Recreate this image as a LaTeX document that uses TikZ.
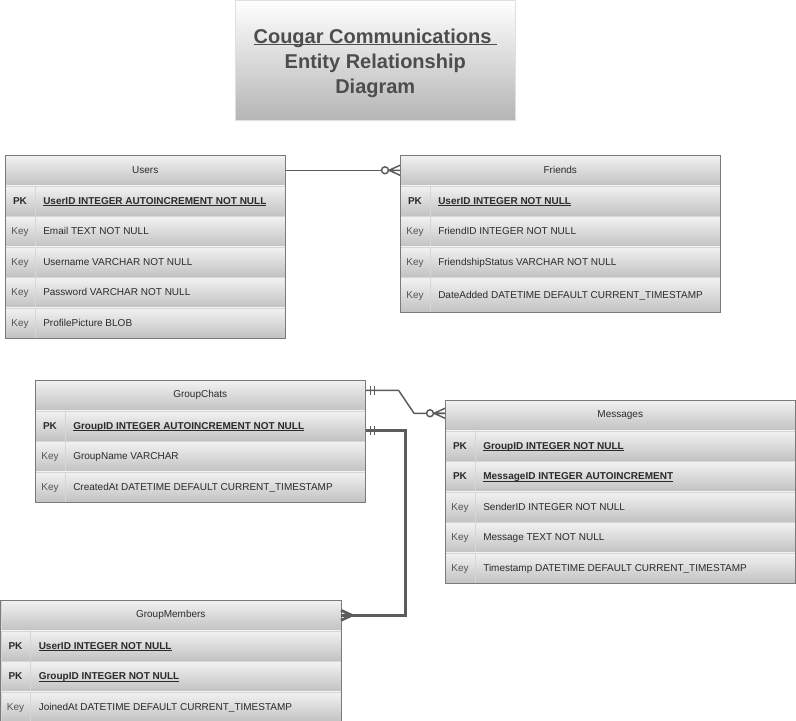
\documentclass[tikz,border=0pt]{standalone}
\usepackage{fontspec}
\setmainfont{Liberation Sans}
\usepackage{xcolor}
\usepackage{tikz}
\usetikzlibrary{positioning,calc}
\definecolor{ERBorder}{HTML}{7A7A7A}
\definecolor{ERTop}{HTML}{F2F2F2}
\definecolor{ERBottom}{HTML}{C2C2C2}
\definecolor{ERSep}{HTML}{D6D6D6}
\definecolor{ERText}{HTML}{2B2B2B}
\definecolor{ERKey}{HTML}{555555}
\definecolor{ERLine}{HTML}{5C5C5C}
\definecolor{TBottom}{HTML}{B5B5B5}
\definecolor{TText}{HTML}{4D4D4D}
\newsavebox{\ulbox}
\newcommand{\ulined}[2][0.55pt]{\sbox{\ulbox}{#2}%
  \makebox[0pt][l]{\rule[-1.3pt]{\wd\ulbox}{#1}}\usebox{\ulbox}}
\newcommand{\pkfield}[1]{\ulined{\textbf{#1}}}
\newcommand{\pkkey}{\textcolor{ERText}{\textbf{PK}}}

\begin{document}
\begin{tikzpicture}[x=0.75pt, y=-0.75pt,
  every node/.style={font=\fontsize{7.5}{9}\selectfont, text=ERText, inner sep=0pt},
  titlebox/.style={anchor=north west, minimum width=210pt, minimum height=90pt,
    top color=white, bottom color=TBottom, draw=white!88!black},
  titletxt/.style={align=center, font=\fontsize{15}{18.75}\selectfont\bfseries, text=TText},
  hdr/.style={draw=ERSep, top color=ERTop, bottom color=ERBottom,
    minimum height=22.5pt, anchor=north west},
  cell/.style={draw=ERSep, top color=ERTop, bottom color=ERBottom, anchor=north west},
  keysep/.style={draw=ERSep, line width=0.4pt},
  keytxt/.style={text=ERKey, anchor=base},
  fldtxt/.style={anchor=base west},
  frame/.style={draw=ERBorder, line width=0.6pt},
  conn/.style={color=ERLine, line width=1.1pt},
  conn3/.style={color=ERLine, line width=2pt},
  one/.pic={\draw (5,-4.5) -- (5,4.5) (9,-4.5) -- (9,4.5);},
  many/.pic={\draw (-11,0) -- (0,-5) (-11,0) -- (0,0) (-11,0) -- (0,5);},
  zeromany/.pic={\draw (-11,0) -- (0,-5) (-11,0) -- (0,0) (-11,0) -- (0,5);
    \draw[fill=white] (-15,0) circle[radius=2.6pt];}]
\useasboundingbox (0,0) rectangle (796,721);

% title
\node[titlebox] (title) at (235,0) {};
\node[titletxt] (title-txt) at ($(title.center)+(0,3)$)
  {\ulined[1pt]{Cougar Communications\ }\\Entity Relationship\\Diagram};

% Users
\def\tw{280}
\node[hdr, minimum width=\tw*0.75pt, alias=users-0] (users) at (5,155) {Users};
\foreach \i/\h/\k/\f in {%
  1/30/{\pkkey}/{\pkfield{UserID INTEGER AUTOINCREMENT NOT NULL}},
  2/30/Key/{Email TEXT NOT NULL},
  3/30/Key/{Username VARCHAR NOT NULL},
  4/30/Key/{Password VARCHAR NOT NULL},
  5/30/Key/{ProfilePicture BLOB}}{
  \pgfmathtruncatemacro{\j}{\i-1}
  \node[cell, minimum width=\tw*0.75pt, minimum height=\h*0.75pt] (users-\i) at (users-\j.south west) {};
  \draw[keysep] ($(users-\i.north west)+(30,0)$) -- ($(users-\i.south west)+(30,0)$);
  \node[keytxt] (users-k\i) at ($(users-\i.west)+(15,3.3)$) {\k};
  \node[fldtxt] (users-f\i) at ($(users-\i.west)+(38,3.3)$) {\f};
}
\draw[frame] (users.north west) rectangle (users-5.south east);

% Friends
\def\tw{320}
\node[hdr, minimum width=\tw*0.75pt, alias=friends-0] (friends) at (400,155) {Friends};
\foreach \i/\h/\k/\f in {%
  1/30/{\pkkey}/{\pkfield{UserID INTEGER NOT NULL}},
  2/30/Key/{FriendID INTEGER NOT NULL},
  3/30/Key/{FriendshipStatus VARCHAR NOT NULL},
  4/35/Key/{DateAdded DATETIME DEFAULT CURRENT\_TIMESTAMP}}{
  \pgfmathtruncatemacro{\j}{\i-1}
  \node[cell, minimum width=\tw*0.75pt, minimum height=\h*0.75pt] (friends-\i) at (friends-\j.south west) {};
  \draw[keysep] ($(friends-\i.north west)+(30,0)$) -- ($(friends-\i.south west)+(30,0)$);
  \node[keytxt] (friends-k\i) at ($(friends-\i.west)+(15,3.3)$) {\k};
  \node[fldtxt] (friends-f\i) at ($(friends-\i.west)+(38,3.3)$) {\f};
}
\draw[frame] (friends.north west) rectangle (friends-4.south east);

% GroupChats
\def\tw{330}
\node[hdr, minimum width=\tw*0.75pt, alias=groupchats-0] (groupchats) at (35,380) {GroupChats};
\foreach \i/\h/\k/\f in {%
  1/30/{\pkkey}/{\pkfield{GroupID INTEGER AUTOINCREMENT NOT NULL}},
  2/30/Key/{GroupName VARCHAR},
  3/30/Key/{CreatedAt DATETIME DEFAULT CURRENT\_TIMESTAMP}}{
  \pgfmathtruncatemacro{\j}{\i-1}
  \node[cell, minimum width=\tw*0.75pt, minimum height=\h*0.75pt] (groupchats-\i) at (groupchats-\j.south west) {};
  \draw[keysep] ($(groupchats-\i.north west)+(30,0)$) -- ($(groupchats-\i.south west)+(30,0)$);
  \node[keytxt] (groupchats-k\i) at ($(groupchats-\i.west)+(15,3.3)$) {\k};
  \node[fldtxt] (groupchats-f\i) at ($(groupchats-\i.west)+(38,3.3)$) {\f};
}
\draw[frame] (groupchats.north west) rectangle (groupchats-3.south east);

% Messages
\def\tw{350}
\node[hdr, minimum width=\tw*0.75pt, alias=messages-0] (messages) at (445,400) {Messages};
\foreach \i/\h/\k/\f in {%
  1/30/{\pkkey}/{\pkfield{GroupID INTEGER NOT NULL}},
  2/30/{\pkkey}/{\pkfield{MessageID INTEGER AUTOINCREMENT}},
  3/30/Key/{SenderID INTEGER NOT NULL},
  4/30/Key/{Message TEXT NOT NULL},
  5/30/Key/{Timestamp DATETIME DEFAULT CURRENT\_TIMESTAMP}}{
  \pgfmathtruncatemacro{\j}{\i-1}
  \node[cell, minimum width=\tw*0.75pt, minimum height=\h*0.75pt] (messages-\i) at (messages-\j.south west) {};
  \draw[keysep] ($(messages-\i.north west)+(30,0)$) -- ($(messages-\i.south west)+(30,0)$);
  \node[keytxt] (messages-k\i) at ($(messages-\i.west)+(15,3.3)$) {\k};
  \node[fldtxt] (messages-f\i) at ($(messages-\i.west)+(38,3.3)$) {\f};
}
\draw[frame] (messages.north west) rectangle (messages-5.south east);

% GroupMembers
\def\tw{340}
\node[hdr, minimum width=\tw*0.75pt, alias=groupmembers-0] (groupmembers) at (0.5,600) {GroupMembers};
\foreach \i/\h/\k/\f in {%
  1/30/{\pkkey}/{\pkfield{UserID INTEGER NOT NULL}},
  2/30/{\pkkey}/{\pkfield{GroupID INTEGER NOT NULL}},
  3/30/Key/{JoinedAt DATETIME DEFAULT CURRENT\_TIMESTAMP}}{
  \pgfmathtruncatemacro{\j}{\i-1}
  \node[cell, minimum width=\tw*0.75pt, minimum height=\h*0.75pt] (groupmembers-\i) at (groupmembers-\j.south west) {};
  \draw[keysep] ($(groupmembers-\i.north west)+(30,0)$) -- ($(groupmembers-\i.south west)+(30,0)$);
  \node[keytxt] (groupmembers-k\i) at ($(groupmembers-\i.west)+(15,3.3)$) {\k};
  \node[fldtxt] (groupmembers-f\i) at ($(groupmembers-\i.west)+(38,3.3)$) {\f};
}
\draw[frame] (groupmembers.north west) rectangle (groupmembers-3.south east);

% relations
\draw[conn] (users.east) -- (friends.west);
\pic[conn] at (friends.west) {zeromany};

\draw[conn] ($(groupchats.east)+(0,-5)$) -- ++(33,0)
  -- ($(messages.west)+(-31,-2)$) -- ($(messages.west)+(0,-2)$);
\pic[conn] at ($(groupchats.east)+(0,-5)$) {one};
\pic[conn] at ($(messages.west)+(0,-2)$) {zeromany};

\draw[conn3] ($(groupchats-1.east)+(0,5)$) -- ++(40,0) |- (groupmembers.east);
\pic[conn3, line width=1.3pt] at ($(groupchats-1.east)+(0,5)$) {one};
\pic[conn3, xscale=-1] at (groupmembers.east) {many};
\end{tikzpicture}
\end{document}
